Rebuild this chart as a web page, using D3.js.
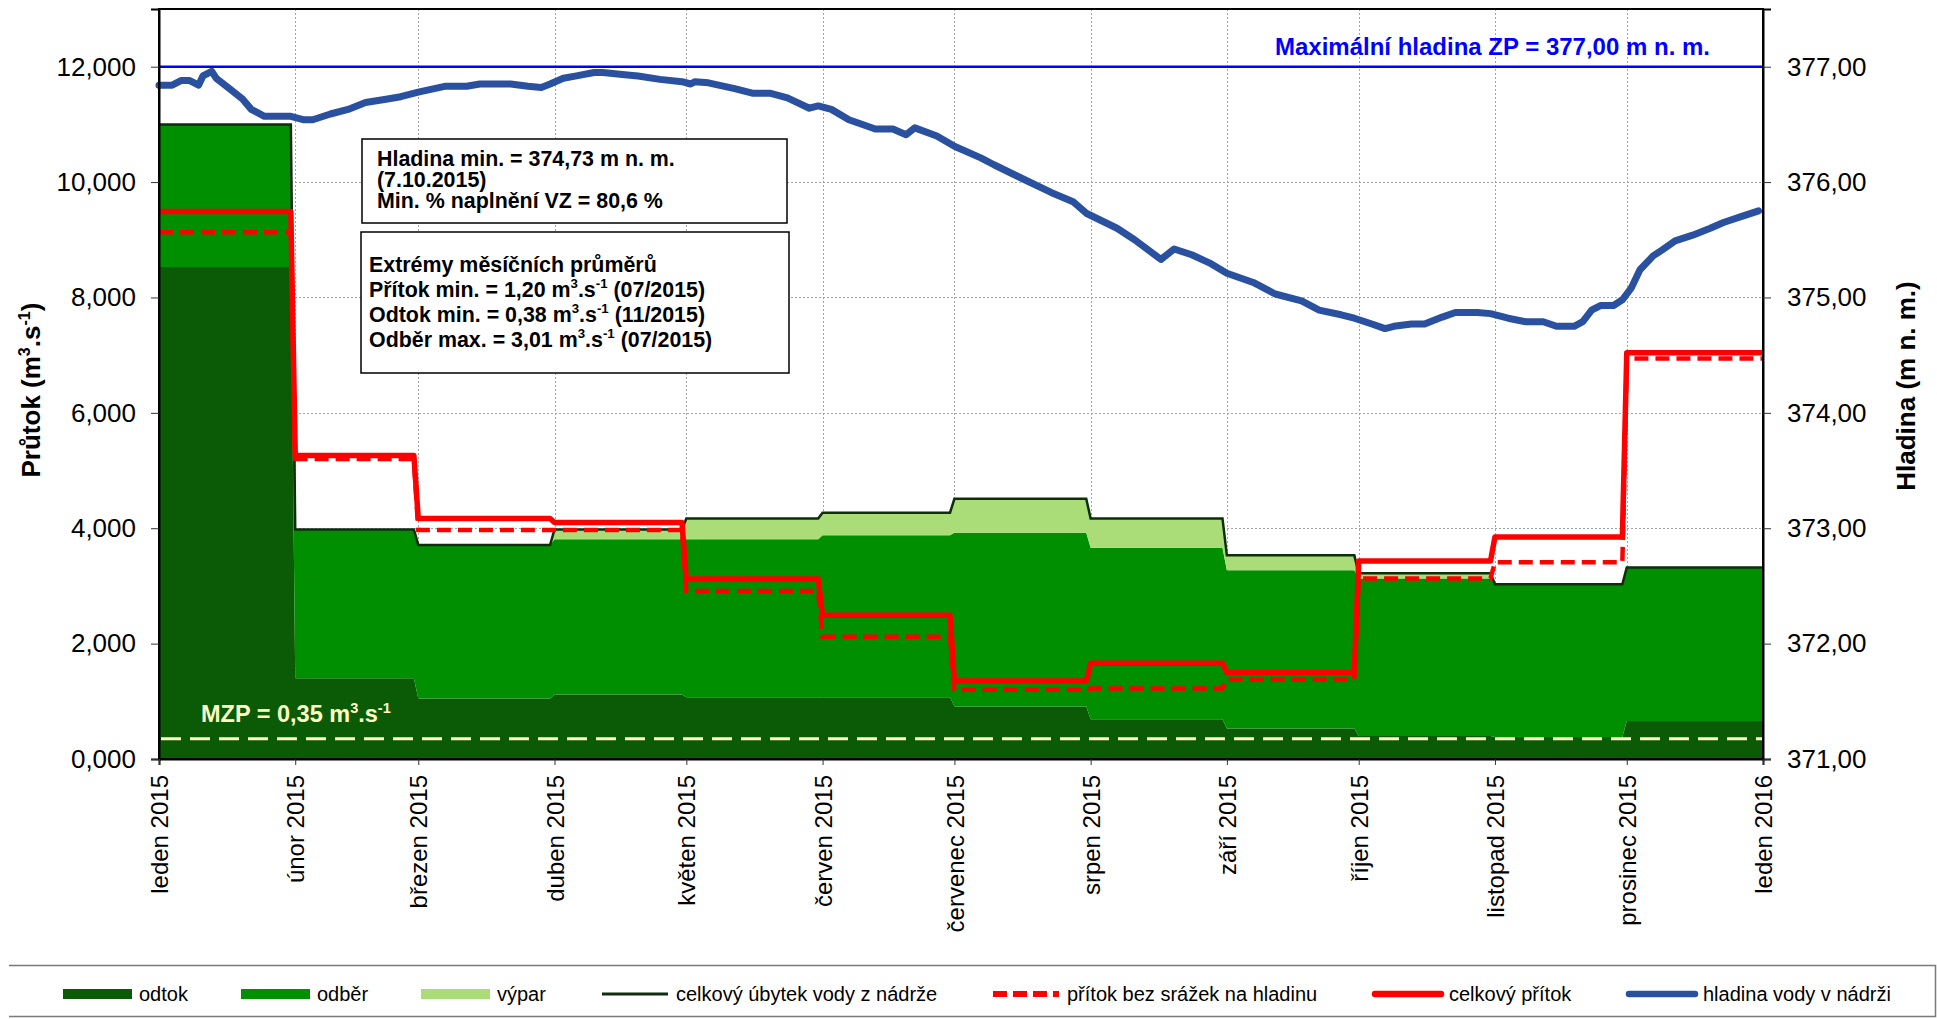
<!DOCTYPE html>
<html>
<head>
<meta charset="utf-8">
<script src="https://cdn.jsdelivr.net/npm/d3@7"></script>
<style>
  body { margin: 0; background: #fff; }
  svg { display: block; }
  text { font-family: "Liberation Sans", Arial, sans-serif; }
</style>
</head>
<body>
<svg id="chart" width="1937" height="1019"></svg>
<script>
/////////////////////////////////////////////////////////////
//////////////////////// Data ///////////////////////////////
/////////////////////////////////////////////////////////////
var monthStarts = ["2015-01-01", "2015-02-01", "2015-03-01", "2015-04-01", "2015-05-01", "2015-06-01",
                   "2015-07-01", "2015-08-01", "2015-09-01", "2015-10-01", "2015-11-01", "2015-12-01"];
var tickLabels = ["leden 2015", "únor 2015", "březen 2015", "duben 2015", "květen 2015", "červen 2015",
                  "červenec 2015", "srpen 2015", "září 2015", "říjen 2015", "listopad 2015", "prosinec 2015", "leden 2016"];

// monthly means, m3/s
var odtok  = [8.53, 1.40, 1.05, 1.12, 1.07, 1.07, 0.91, 0.69, 0.53, 0.40, 0.38, 0.66];
var odber  = [2.47, 2.58, 2.66, 2.69, 2.74, 2.81, 3.01, 2.97, 2.74, 2.73, 2.65, 2.66];
var vypar  = [0.00, 0.00, 0.00, 0.17, 0.36, 0.39, 0.59, 0.51, 0.26, 0.09, 0.00, 0.00];
var pritok = [9.49, 5.26, 4.17, 4.10, 3.12, 2.49, 1.35, 1.66, 1.50, 3.43, 3.85, 7.04];
var pritokBezSrazek = [9.13, 5.20, 3.97, 3.97, 2.91, 2.12, 1.20, 1.22, 1.38, 3.13, 3.41, 6.94];

var mzp = 0.35;
var maxHladina = 377.00;

// water level (m n. m.)
var levelDates = ["01-01","01-04","01-06","01-08","01-10","01-11","01-13","01-14","01-17","01-20","01-22","01-25","01-31",
  "02-03","02-05","02-09","02-13","02-17","02-22","02-25",
  "03-01","03-07","03-12","03-15","03-22","03-26","03-29","03-31",
  "04-03","04-06","04-10","04-12","04-17","04-20","04-25","04-30",
  "05-02","05-03","05-06","05-12","05-16","05-20","05-24","05-29","05-31",
  "06-03","06-07","06-13","06-17","06-20","06-22","06-27",
  "07-01","07-07","07-10","07-17","07-23","07-28","07-31",
  "08-07","08-11","08-17","08-20","08-24","08-28",
  "09-01","09-07","09-12","09-18","09-22","09-27","09-30",
  "10-04","10-07","10-09","10-13","10-16","10-20","10-23","10-28","10-31",
  "11-04","11-08","11-12","11-15","11-19","11-21","11-23","11-25","11-28","11-30",
  "12-02","12-04","12-07","12-09","12-12","12-16","12-20","12-23","12-27","12-31"];
var levelValues = [376.84,376.84,376.88,376.88,376.84,376.92,376.96,376.90,376.81,376.72,376.63,376.57,376.57,
  376.54,376.54,376.59,376.63,376.69,376.72,376.74,
  376.78,376.83,376.83,376.85,376.85,376.83,376.82,376.85,
  376.90,376.92,376.95,376.95,376.93,376.92,376.89,376.87,
  376.85,376.87,376.86,376.81,376.77,376.77,376.73,376.64,376.66,
  376.63,376.54,376.46,376.46,376.41,376.47,376.40,
  376.31,376.21,376.15,376.02,375.91,375.83,375.73,
  375.60,375.50,375.33,375.42,375.37,375.30,
  375.21,375.13,375.03,374.97,374.89,374.85,374.82,
  374.77,374.73,374.75,374.77,374.77,374.83,374.87,374.87,374.86,
  374.82,374.79,374.79,374.75,374.75,374.79,374.89,374.93,374.93,374.98,
  375.08,375.24,375.36,375.41,375.49,375.54,375.60,375.65,375.70,375.75];

var flowTicks = [0, 2, 4, 6, 8, 10, 12];
var levelTicks = [371, 372, 373, 374, 375, 376, 377];

var box1Lines = ["Hladina min. = 374,73 m n. m.", "(7.10.2015)", "Min. % naplnění VZ = 80,6 %"];
var box2Lines = ["Extrémy měsíčních průměrů", "Přítok min. = 1,20 m^3.s^-1 (07/2015)",
                 "Odtok min. = 0,38 m^3.s^-1 (11/2015)", "Odběr max. = 3,01 m^3.s^-1 (07/2015)"];

/////////////////////////////////////////////////////////////
/////////////////////// Setup ///////////////////////////////
/////////////////////////////////////////////////////////////
var cOdtok = "#0b5a06", cOdber = "#008f00", cVypar = "#aadc78", cTotal = "#0e2e0c",
    cRed = "#ff0000", cBlue = "#2a51a0", cMax = "#0000ff", cMzp = "#ffffc4";

//plot box (window.top is reserved, so own names here)
var plotL = 159, plotR = 1763, plotT = 9, plotB = 759;

var svg = d3.select("#chart");
var parse = d3.utcParse("%Y-%m-%d");
var months = monthStarts.map(parse);
var yearEnd = d3.utcYear.offset(months[0], 1);
var tickDates = months.concat([yearEnd]);

var cz = d3.formatLocale({decimal: ",", thousands: "\u00a0", grouping: [3], currency: ["", " Kč"]});

var x = d3.scaleUtc().domain([months[0], yearEnd]).range([plotL, plotR]);
var yL = d3.scaleLinear().domain([0, 13]).range([plotB, plotT]);
var yR = d3.scaleLinear().domain([371, 377.5]).range([plotB, plotT]);

//last day of a month (december runs to the axis end)
function monthEnd(i) {
    return i < months.length - 1 ? d3.utcDay.offset(months[i + 1], -1) : yearEnd;
}

//monthly values held constant through each month
function steps(values) {
    var pts = [];
    months.forEach(function(m, i) {
        pts.push([m, values[i]]);
        pts.push([monthEnd(i), values[i]]);
    });
    return pts;
}

//text with superscripts written as ^3 or ^-1
function rich(textSel, str, size) {
    var raised = false;
    str.split(/(\^-?\d+)/).forEach(function(p) {
        if (p === "") return;
        var sup = p.charAt(0) === "^";
        var t = textSel.append("tspan").text(sup ? p.slice(1) : p);
        if (sup) {
            t.attr("font-size", size * 0.62).attr("dy", raised ? 0 : -size * 0.4);
            raised = true;
        } else {
            t.attr("dy", raised ? size * 0.4 : 0);
            raised = false;
        }
    });
}

/////////////////////////////////////////////////////////////
////////////////////// Grid /////////////////////////////////
/////////////////////////////////////////////////////////////
var grid = svg.append("g").attr("class", "grid")
    .attr("stroke", "#a6a6a6").attr("stroke-width", 1).attr("stroke-dasharray", "2,2");

grid.selectAll("line.h").data(flowTicks.slice(1)).enter().append("line")
    .attr("x1", plotL).attr("x2", plotR)
    .attr("y1", function(d) { return Math.round(yL(d)) + 0.5; })
    .attr("y2", function(d) { return Math.round(yL(d)) + 0.5; });

grid.selectAll("line.v").data(months.slice(1)).enter().append("line")
    .attr("y1", plotT).attr("y2", plotB)
    .attr("x1", function(d) { return Math.round(x(d)) + 0.5; })
    .attr("x2", function(d) { return Math.round(x(d)) + 0.5; });

/////////////////////////////////////////////////////////////
////////////////////// Stacked areas ////////////////////////
/////////////////////////////////////////////////////////////
var rows = [];
months.forEach(function(m, i) {
    [m, monthEnd(i)].forEach(function(d) {
        rows.push({date: d, odtok: odtok[i], odber: odber[i], vypar: vypar[i]});
    });
});

var stacked = d3.stack().keys(["odtok", "odber", "vypar"])(rows);
var areaColors = [cOdtok, cOdber, cVypar];

var area = d3.area()
    .x(function(d) { return x(d.data.date); })
    .y0(function(d) { return yL(d[0]); })
    .y1(function(d) { return yL(d[1]); });

svg.append("g").selectAll("path").data(stacked).enter().append("path")
    .attr("d", area)
    .attr("fill", function(d, i) { return areaColors[i]; });

//celkový úbytek = top of the stack
var totalLine = d3.line()
    .x(function(d) { return x(d.data.date); })
    .y(function(d) { return yL(d[1]); });

svg.append("path").datum(stacked[2])
    .attr("d", totalLine)
    .attr("fill", "none")
    .attr("stroke", cTotal)
    .attr("stroke-width", 2.5);

/////////////////////////////////////////////////////////////
////////////////////// MZP //////////////////////////////////
/////////////////////////////////////////////////////////////
svg.append("line")
    .attr("x1", plotL + 2).attr("x2", plotR)
    .attr("y1", yL(mzp)).attr("y2", yL(mzp))
    .attr("stroke", cMzp).attr("stroke-width", 3)
    .attr("stroke-dasharray", "20,9");

var mzpText = svg.append("text")
    .attr("x", 201).attr("y", 722)
    .attr("font-size", 23.5).attr("font-weight", "bold")
    .attr("fill", cMzp);
rich(mzpText, "MZP = " + cz.format(".2f")(mzp) + " m^3.s^-1", 23.5);

/////////////////////////////////////////////////////////////
////////////////////// Inflow lines /////////////////////////
/////////////////////////////////////////////////////////////
var flowLine = d3.line()
    .x(function(d) { return x(d[0]); })
    .y(function(d) { return yL(d[1]); });

svg.append("path").datum(steps(pritokBezSrazek))
    .attr("d", flowLine)
    .attr("fill", "none")
    .attr("stroke", cRed)
    .attr("stroke-width", 4.5)
    .attr("stroke-dasharray", "14,7");

svg.append("path").datum(steps(pritok))
    .attr("d", flowLine)
    .attr("fill", "none")
    .attr("stroke", cRed)
    .attr("stroke-width", 5.5)
    .attr("stroke-linejoin", "round");

/////////////////////////////////////////////////////////////
////////////////////// Water level //////////////////////////
/////////////////////////////////////////////////////////////
svg.append("line")
    .attr("x1", plotL).attr("x2", plotR)
    .attr("y1", yR(maxHladina)).attr("y2", yR(maxHladina))
    .attr("stroke", cMax).attr("stroke-width", 2.5);

svg.append("text")
    .attr("x", 1710).attr("y", 55)
    .attr("text-anchor", "end")
    .attr("font-size", 24).attr("font-weight", "bold")
    .attr("fill", cMax)
    .text("Maximální hladina ZP = " + cz.format(".2f")(maxHladina) + " m n. m.");

var levelData = levelDates.map(function(d, i) { return [parse("2015-" + d), levelValues[i]]; });

svg.append("path").datum(levelData)
    .attr("d", d3.line()
        .x(function(d) { return x(d[0]); })
        .y(function(d) { return yR(d[1]); }))
    .attr("fill", "none")
    .attr("stroke", cBlue)
    .attr("stroke-width", 7)
    .attr("stroke-linejoin", "round")
    .attr("stroke-linecap", "round");

/////////////////////////////////////////////////////////////
////////////////////// Info boxes ///////////////////////////
/////////////////////////////////////////////////////////////
svg.append("rect")
    .attr("x", 362).attr("y", 139).attr("width", 425).attr("height", 84)
    .attr("fill", "#fff").attr("stroke", "#000").attr("stroke-width", 1.5);
svg.append("rect")
    .attr("x", 361).attr("y", 232).attr("width", 428).attr("height", 141)
    .attr("fill", "#fff").attr("stroke", "#000").attr("stroke-width", 1.5);

box1Lines.forEach(function(l, i) {
    var t = svg.append("text").attr("x", 377).attr("y", 166 + i * 21)
        .attr("font-size", 21.4).attr("font-weight", "bold");
    rich(t, l, 21.4);
});
box2Lines.forEach(function(l, i) {
    var t = svg.append("text").attr("x", 369).attr("y", 271.5 + i * 25)
        .attr("font-size", 21.4).attr("font-weight", "bold");
    rich(t, l, 21.4);
});

/////////////////////////////////////////////////////////////
////////////////////// Axes /////////////////////////////////
/////////////////////////////////////////////////////////////
svg.append("rect")
    .attr("x", plotL).attr("y", plotT)
    .attr("width", plotR - plotL).attr("height", plotB - plotT)
    .attr("fill", "none").attr("stroke", "#000").attr("stroke-width", 2);

var axisL = svg.append("g")
    .attr("transform", "translate(" + plotL + ",0)")
    .call(d3.axisLeft(yL).tickValues(flowTicks).tickSize(8).tickPadding(15).tickFormat(cz.format(".3f")));

var axisR = svg.append("g")
    .attr("transform", "translate(" + plotR + ",0)")
    .call(d3.axisRight(yR).tickValues(levelTicks).tickSize(8).tickPadding(16).tickFormat(cz.format(".2f")));

var axisB = svg.append("g")
    .attr("transform", "translate(0," + plotB + ")")
    .call(d3.axisBottom(x).tickValues(tickDates).tickSize(6)
        .tickFormat(function(d, i) { return tickLabels[i]; }));

[axisL, axisR, axisB].forEach(function(a) {
    a.select(".domain").attr("stroke", "#000").attr("stroke-width", 2);
    a.selectAll(".tick line").attr("stroke", "#333");
    a.selectAll("text").attr("fill", "#000").style("font-family", "\"Liberation Sans\", Arial, sans-serif");
});
axisL.selectAll("text").attr("font-size", 26);
axisR.selectAll("text").attr("font-size", 26);
axisB.selectAll("text")
    .attr("font-size", 24)
    .attr("transform", "rotate(-90)")
    .attr("x", -16).attr("y", 0).attr("dy", "0.36em")
    .style("text-anchor", "end");

//axis titles
var titleL = svg.append("text")
    .attr("transform", "translate(40,390) rotate(-90)")
    .attr("text-anchor", "middle")
    .attr("font-size", 26).attr("font-weight", "bold");
rich(titleL, "Průtok (m^3.s^-1)", 26);

svg.append("text")
    .attr("transform", "translate(1915,386) rotate(-90)")
    .attr("text-anchor", "middle")
    .attr("font-size", 26).attr("font-weight", "bold")
    .text("Hladina (m n. m.)");

/////////////////////////////////////////////////////////////
////////////////////// Legend ///////////////////////////////
/////////////////////////////////////////////////////////////
var legend = svg.append("g").attr("class", "legend");
var legendY = 994;

legend.append("path")
    .attr("d", "M9,965.5H1935.5V1016.5H9")
    .attr("fill", "none").attr("stroke", "#7a7a7a").attr("stroke-width", 1.5);

var legendItems = [
    {label: "odtok", kind: "rect", color: cOdtok, x: 63},
    {label: "odběr", kind: "rect", color: cOdber, x: 241},
    {label: "výpar", kind: "rect", color: cVypar, x: 421},
    {label: "celkový úbytek vody z nádrže", kind: "line", color: cTotal, w: 3, x: 600},
    {label: "přítok bez srážek na hladinu", kind: "dash", color: cRed, w: 6, x: 991},
    {label: "celkový přítok", kind: "line", color: cRed, w: 6.5, x: 1373},
    {label: "hladina vody v nádrži", kind: "line", color: cBlue, w: 6.5, x: 1627}
];

legendItems.forEach(function(it) {
    if (it.kind === "rect") {
        legend.append("rect")
            .attr("x", it.x).attr("y", legendY - 5)
            .attr("width", 69).attr("height", 10)
            .attr("fill", it.color);
    } else {
        legend.append("line")
            .attr("x1", it.x + 2).attr("x2", it.x + 68)
            .attr("y1", legendY).attr("y2", legendY)
            .attr("stroke", it.color).attr("stroke-width", it.w)
            .attr("stroke-linecap", it.kind === "line" && it.w > 4 ? "round" : "butt")
            .attr("stroke-dasharray", it.kind === "dash" ? "14,6" : null);
    }
    legend.append("text")
        .attr("x", it.x + 76).attr("y", legendY + 7)
        .attr("font-size", 20)
        .text(it.label);
});
</script>
</body>
</html>
